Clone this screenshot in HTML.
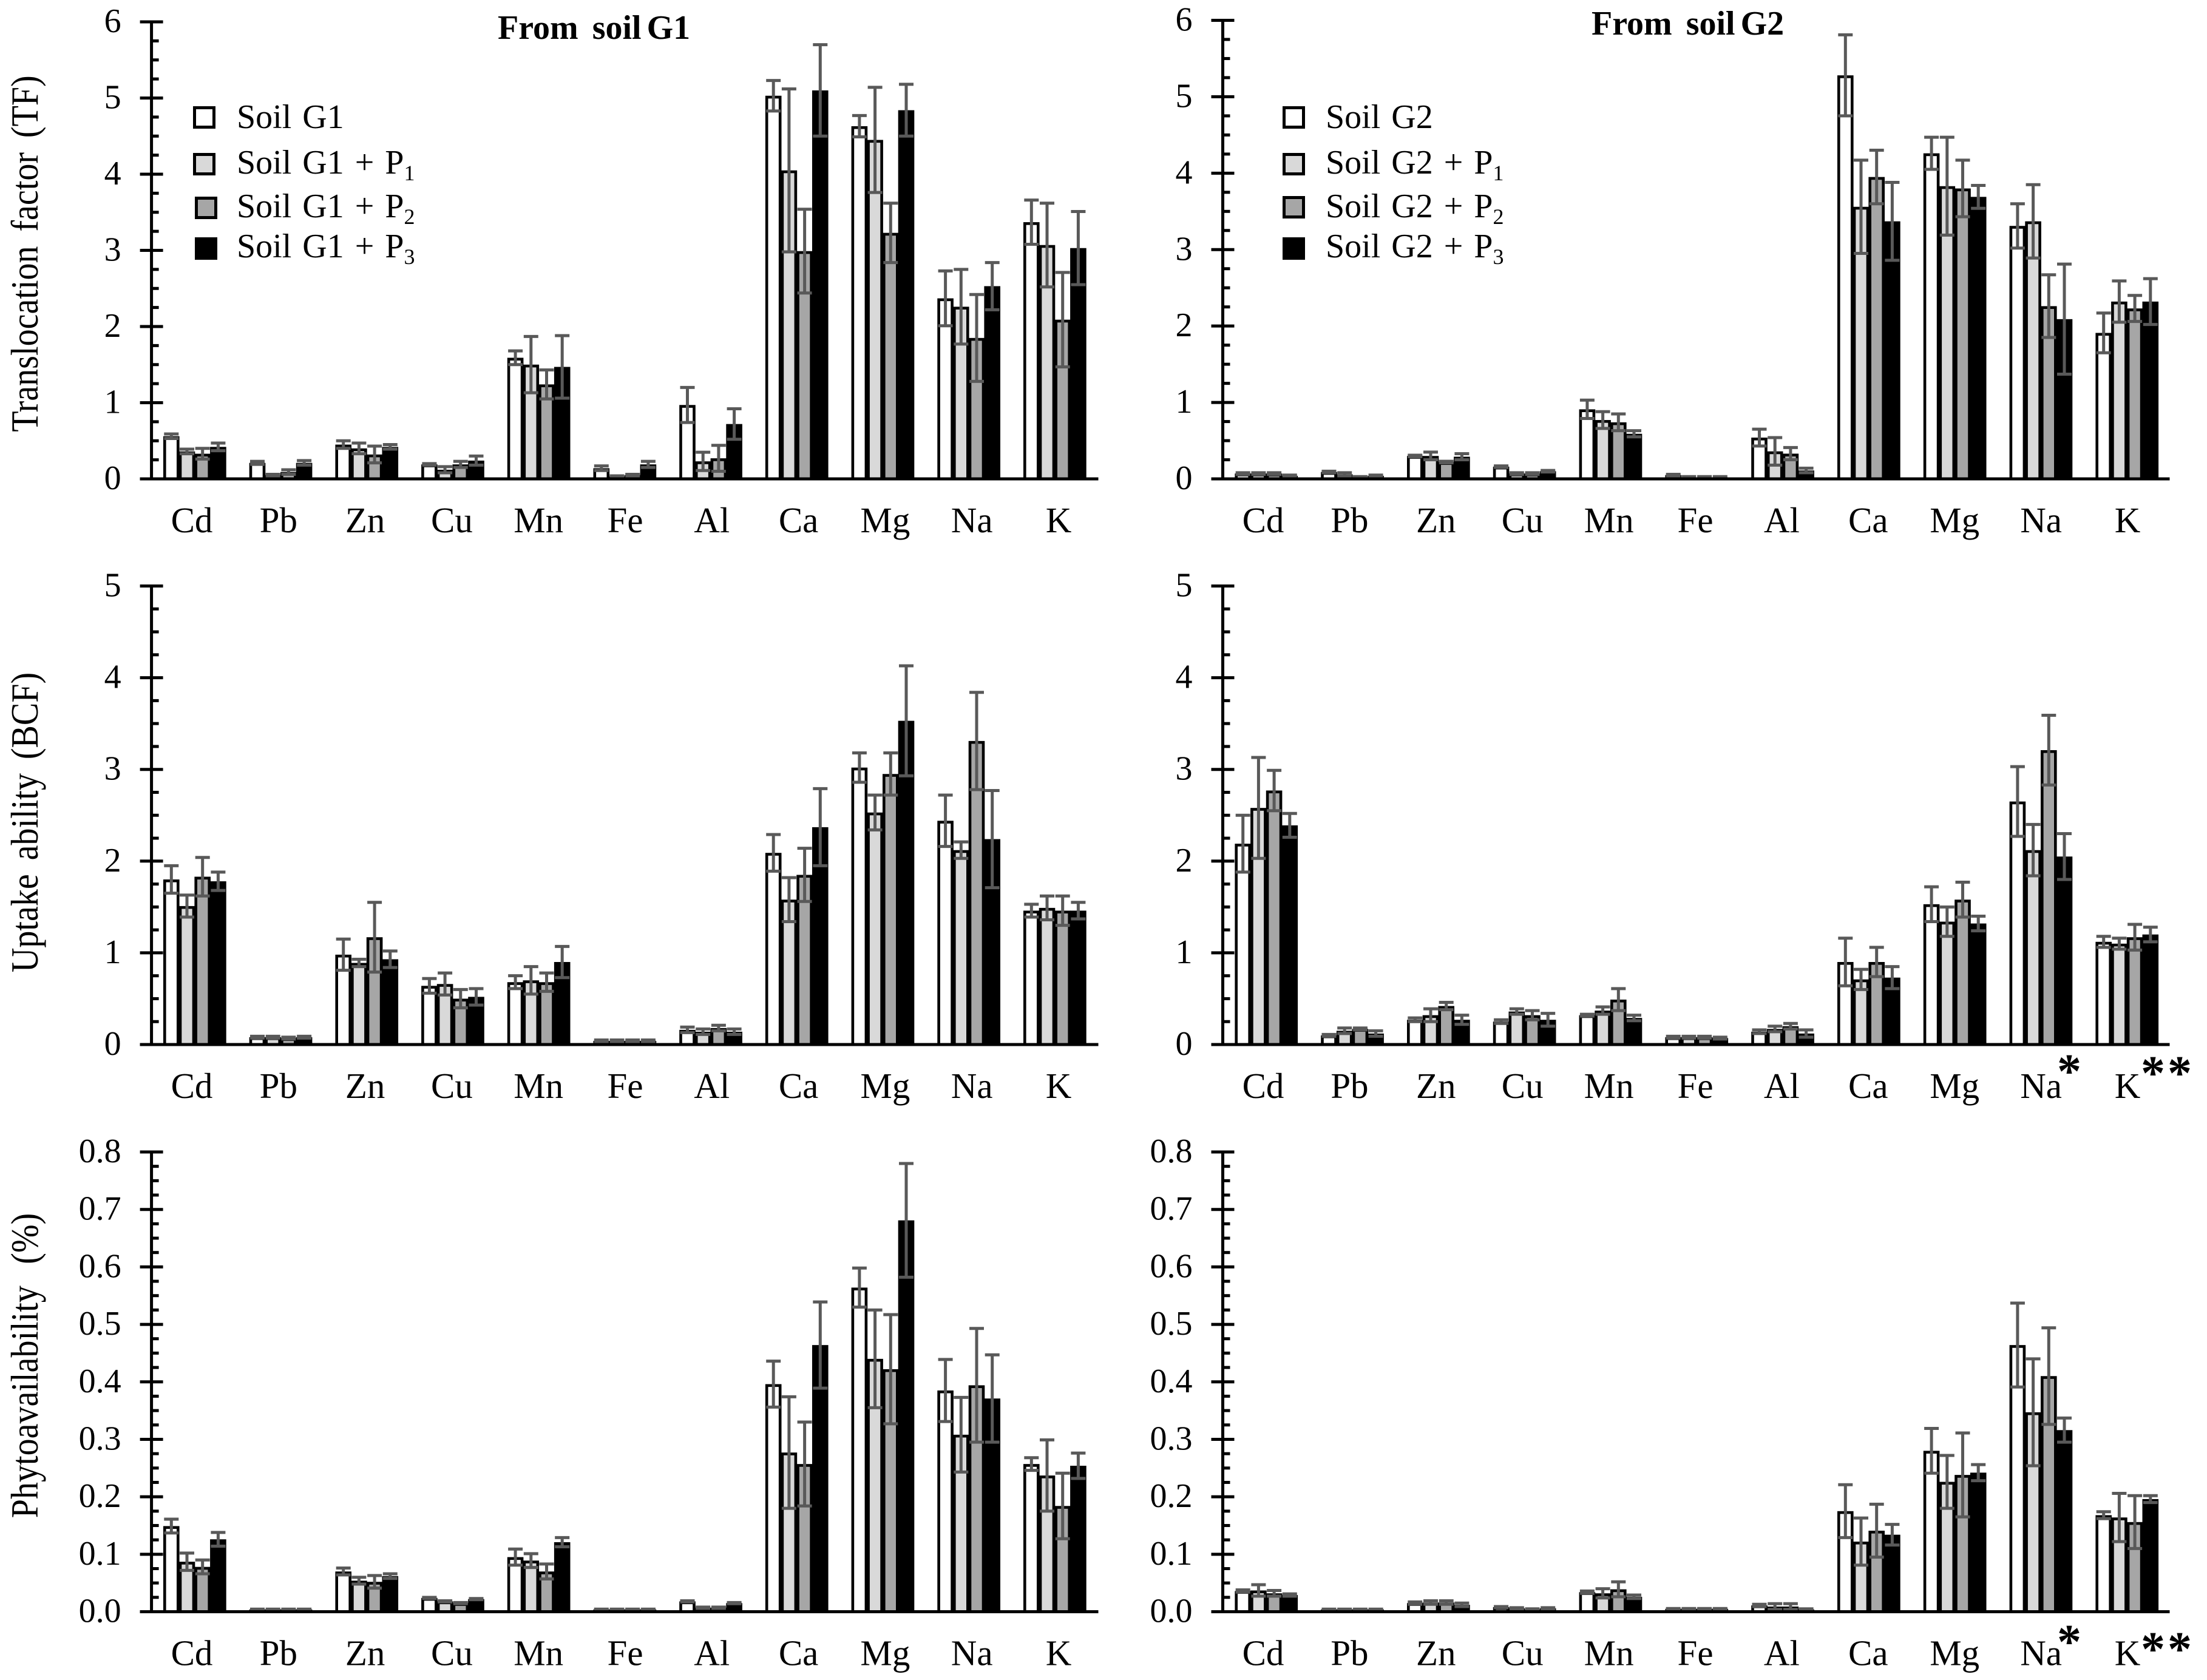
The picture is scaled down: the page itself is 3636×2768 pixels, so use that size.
<!DOCTYPE html>
<html lang="en">
<head>
<meta charset="utf-8">
<title>Translocation factor, uptake ability and phytoavailability from soils G1 and G2</title>
<style>
  html, body { margin: 0; padding: 0; background: #fff; }
  svg { display: block; }
  text { font-family: "Liberation Serif", "Times New Roman", serif; fill: #000; }
</style>
</head>
<body>
<svg id="chart" xmlns="http://www.w3.org/2000/svg" width="3636" height="2768" viewBox="0 0 3636 2768">
  <rect x="0" y="0" width="3636" height="2768" fill="#fff"/>

  <text x="820" y="64" font-size="56" font-weight="bold">From <tspan dx="9">soil</tspan> <tspan dx="-5">G1</tspan></text>
  <text x="2622" y="57" font-size="56" font-weight="bold">From <tspan dx="9">soil</tspan> <tspan dx="-5">G2</tspan></text>

  <text transform="translate(62 418) rotate(-90) scale(0.89 1)" text-anchor="middle" font-size="63" word-spacing="11">Translocation factor (TF)</text>
  <text transform="translate(62 1355) rotate(-90) scale(0.89 1)" text-anchor="middle" font-size="63" word-spacing="10">Uptake ability (BCF)</text>
  <text transform="translate(62 2250) rotate(-90) scale(0.89 1)" text-anchor="middle" font-size="63" word-spacing="24">Phytoavailability (%)</text>

  <g>
    <g>
      <rect x="320.5" y="177.5" width="32" height="32" fill="#fff" stroke="#000" stroke-width="5"/>
      <text x="390" y="211" font-size="56" word-spacing="4">Soil G1</text>
    </g>
    <g>
      <rect x="320.5" y="254.5" width="32" height="32" fill="#d9d9d9" stroke="#000" stroke-width="5"/>
      <text x="390" y="286" font-size="56" word-spacing="4">Soil G1 + P<tspan font-size="36" dy="11">1</tspan></text>
    </g>
    <g>
      <rect x="323.5" y="326.5" width="32" height="32" fill="#a6a6a6" stroke="#000" stroke-width="5"/>
      <text x="390" y="358" font-size="56" word-spacing="4">Soil G1 + P<tspan font-size="36" dy="11">2</tspan></text>
    </g>
    <g>
      <rect x="323.5" y="393.5" width="32" height="32" fill="#000" stroke="#000" stroke-width="5"/>
      <text x="390" y="424" font-size="56" word-spacing="4">Soil G1 + P<tspan font-size="36" dy="11">3</tspan></text>
    </g>
  </g>

  <g>
    <g>
      <rect x="2115.5" y="177.5" width="32" height="32" fill="#fff" stroke="#000" stroke-width="5"/>
      <text x="2184" y="211" font-size="56" word-spacing="4">Soil G2</text>
    </g>
    <g>
      <rect x="2115.5" y="254.5" width="32" height="32" fill="#d9d9d9" stroke="#000" stroke-width="5"/>
      <text x="2184" y="286" font-size="56" word-spacing="4">Soil G2 + P<tspan font-size="36" dy="11">1</tspan></text>
    </g>
    <g>
      <rect x="2115.5" y="325.5" width="32" height="32" fill="#a6a6a6" stroke="#000" stroke-width="5"/>
      <text x="2184" y="358" font-size="56" word-spacing="4">Soil G2 + P<tspan font-size="36" dy="11">2</tspan></text>
    </g>
    <g>
      <rect x="2115.5" y="393.5" width="32" height="32" fill="#000" stroke="#000" stroke-width="5"/>
      <text x="2184" y="424" font-size="56" word-spacing="4">Soil G2 + P<tspan font-size="36" dy="11">3</tspan></text>
    </g>
  </g>

  <g id="panels"></g>

  <g>
    <text x="3409" y="1792" font-size="80" font-weight="bold" text-anchor="middle">*</text>
    <text x="3547" y="1795" font-size="80" font-weight="bold" text-anchor="middle">*</text>
    <text x="3591" y="1795" font-size="80" font-weight="bold" text-anchor="middle">*</text>
    <text x="3409" y="2732" font-size="80" font-weight="bold" text-anchor="middle">*</text>
    <text x="3547" y="2744" font-size="80" font-weight="bold" text-anchor="middle">*</text>
    <text x="3591" y="2744" font-size="80" font-weight="bold" text-anchor="middle">*</text>
  </g>
</svg>

<script>
// Categories and tick labels
const elements = ['Cd','Pb','Zn','Cu','Mn','Fe','Al','Ca','Mg','Na','K'];
const seriesNames = ['soil','soil-p1','soil-p2','soil-p3'];
const tfTicks = ['0','1','2','3','4','5','6'];
const bcfTicks = ['0','1','2','3','4','5'];
const phytoTicks = ['0.0','0.1','0.2','0.3','0.4','0.5','0.6','0.7','0.8'];

// Each row is one element: [soil, +P1, +P2, +P3]
const tfG1Values = [
  [0.56,0.36,0.33,0.42],[0.21,0.05,0.09,0.21],[0.45,0.40,0.32,0.42],[0.19,0.12,0.19,0.24],
  [1.59,1.50,1.24,1.47],[0.14,0.03,0.05,0.19],[0.97,0.23,0.27,0.72],[5.03,4.05,2.99,5.10],
  [4.63,4.45,3.23,4.84],[2.37,2.26,1.85,2.53],[3.37,3.07,2.09,3.03]
];
const tfG1Errors = [
  [0.03,0.03,0.07,0.05],[0.02,0.01,0.03,0.03],[0.05,0.07,0.11,0.03],[0.01,0.04,0.04,0.06],
  [0.09,0.37,0.19,0.41],[0.03,0.01,0.01,0.04],[0.23,0.12,0.17,0.20],[0.20,1.07,0.55,0.60],
  [0.14,0.69,0.39,0.34],[0.36,0.49,0.57,0.31],[0.29,0.55,0.62,0.48]
];
const tfG2Values = [
  [0.07,0.07,0.07,0.04],[0.09,0.06,0.02,0.04],[0.30,0.30,0.22,0.29],[0.16,0.07,0.07,0.10],
  [0.91,0.77,0.74,0.59],[0.05,0.02,0.02,0.02],[0.54,0.36,0.33,0.11],[5.28,3.56,3.95,3.37],
  [4.26,3.83,3.80,3.69],[3.31,3.37,2.26,2.09],[1.91,2.32,2.23,2.32]
];
const tfG2Errors = [
  [0.01,0.01,0.01,0.01],[0.01,0.02,0.01,0.01],[0.01,0.05,0.01,0.04],[0.01,0.01,0.01,0.01],
  [0.12,0.11,0.11,0.04],[0.01,0.01,0.01,0.01],[0.11,0.18,0.08,0.03],[0.53,0.61,0.35,0.51],
  [0.21,0.64,0.37,0.15],[0.29,0.48,0.41,0.72],[0.26,0.27,0.17,0.30]
];
const bcfG1Values = [
  [1.80,1.51,1.83,1.78],[0.08,0.08,0.07,0.08],[0.98,0.89,1.17,0.93],[0.64,0.66,0.50,0.52],
  [0.68,0.70,0.68,0.90],[0.04,0.04,0.04,0.04],[0.16,0.14,0.18,0.14],[2.09,1.58,1.85,2.37],
  [3.02,2.53,2.95,3.53],[2.44,2.12,3.31,2.24],[1.46,1.49,1.46,1.46]
];
const bcfG1Errors = [
  [0.15,0.12,0.21,0.10],[0.01,0.01,0.01,0.01],[0.17,0.04,0.38,0.09],[0.08,0.12,0.10,0.09],
  [0.07,0.15,0.10,0.17],[0.01,0.01,0.01,0.01],[0.03,0.03,0.03,0.03],[0.20,0.24,0.29,0.42],
  [0.16,0.19,0.23,0.60],[0.28,0.09,0.53,0.53],[0.07,0.13,0.16,0.09]
];
const bcfG2Values = [
  [2.19,2.58,2.77,2.39],[0.10,0.15,0.17,0.12],[0.27,0.32,0.42,0.27],[0.25,0.36,0.32,0.27],
  [0.32,0.37,0.49,0.29],[0.08,0.08,0.08,0.07],[0.14,0.17,0.20,0.12],[0.90,0.71,0.90,0.73],
  [1.53,1.34,1.58,1.32],[2.65,2.12,3.21,2.05],[1.12,1.10,1.17,1.20]
];
const bcfG2Errors = [
  [0.31,0.55,0.22,0.13],[0.01,0.03,0.01,0.03],[0.02,0.07,0.04,0.05],[0.02,0.03,0.05,0.07],
  [0.01,0.04,0.12,0.03],[0.01,0.01,0.01,0.01],[0.02,0.03,0.03,0.04],[0.26,0.11,0.16,0.12],
  [0.19,0.16,0.19,0.08],[0.38,0.28,0.38,0.25],[0.06,0.06,0.14,0.08]
];
const phytoG1Values = [
  [0.149,0.087,0.078,0.126],[0.004,0.004,0.004,0.004],[0.070,0.054,0.052,0.062],[0.024,0.018,0.015,0.022],
  [0.095,0.089,0.070,0.121],[0.004,0.004,0.004,0.004],[0.018,0.007,0.007,0.015],[0.396,0.277,0.257,0.464],
  [0.564,0.440,0.422,0.681],[0.385,0.308,0.394,0.371],[0.257,0.237,0.184,0.254]
];
const phytoG1Errors = [
  [0.012,0.015,0.012,0.012],[0.0005,0.0005,0.0005,0.0005],[0.006,0.006,0.011,0.004],[0.001,0.001,0.001,0.001],
  [0.014,0.012,0.013,0.008],[0.0005,0.0005,0.0005,0.0005],[0.001,0.001,0.001,0.001],[0.040,0.097,0.073,0.075],
  [0.034,0.085,0.095,0.099],[0.054,0.065,0.099,0.076],[0.011,0.062,0.057,0.022]
];
const phytoG2Values = [
  [0.036,0.037,0.032,0.029],[0.004,0.004,0.004,0.004],[0.015,0.016,0.016,0.012],[0.008,0.006,0.004,0.006],
  [0.034,0.032,0.039,0.026],[0.005,0.005,0.005,0.005],[0.011,0.009,0.009,0.004],[0.175,0.122,0.141,0.134],
  [0.280,0.226,0.238,0.242],[0.464,0.347,0.410,0.316],[0.168,0.164,0.156,0.196]
];
const phytoG2Errors = [
  [0.002,0.010,0.005,0.002],[0.0005,0.0005,0.0005,0.0005],[0.002,0.003,0.003,0.003],[0.001,0.001,0.001,0.001],
  [0.002,0.008,0.013,0.003],[0.0005,0.0005,0.0005,0.0005],[0.002,0.005,0.005,0.001],[0.046,0.041,0.046,0.018],
  [0.039,0.046,0.073,0.014],[0.073,0.093,0.084,0.021],[0.006,0.042,0.046,0.006]
];

// Styles and layout (not data)
const fills = ['#ffffff','#d9d9d9','#a6a6a6','#000000'];
const ERR = '#595959';
const BAR_PITCH = 25.7, BAR_W = 26.6, BAR_SW = 4.6, CAP_W = 24, ERR_SW = 5, AXIS_SW = 5;

const leftCol  = { axisX: 249.6,  xEnd: 1809.5, groupStart: 269,    groupStep: 141.7, labelStart: 316,  labelStep: 142.8 };
const rightCol = { axisX: 2014.5, xEnd: 3574.5, groupStart: 2034.4, groupStep: 141.8, labelStart: 2081, labelStep: 142.4 };

const panels = [
  { name:'tf-g1',    col:leftCol,  y0:789,    yTop:36,    max:6,   ticks:tfTicks,    values:tfG1Values,    errors:tfG1Errors },
  { name:'tf-g2',    col:rightCol, y0:789,    yTop:33.5,  max:6,   ticks:tfTicks,    values:tfG2Values,    errors:tfG2Errors },
  { name:'bcf-g1',   col:leftCol,  y0:1721,   yTop:965.5, max:5,   ticks:bcfTicks,   values:bcfG1Values,   errors:bcfG1Errors },
  { name:'bcf-g2',   col:rightCol, y0:1721,   yTop:965.5, max:5,   ticks:bcfTicks,   values:bcfG2Values,   errors:bcfG2Errors },
  { name:'phyto-g1', col:leftCol,  y0:2655.5, yTop:1898,  max:0.8, ticks:phytoTicks, values:phytoG1Values, errors:phytoG1Errors },
  { name:'phyto-g2', col:rightCol, y0:2655.5, yTop:1898,  max:0.8, ticks:phytoTicks, values:phytoG2Values, errors:phytoG2Errors }
];

const NS = 'http://www.w3.org/2000/svg';
function make(tag, attrs, parent) {
  const el = document.createElementNS(NS, tag);
  for (const k in attrs) el.setAttribute(k, attrs[k]);
  parent.appendChild(el);
  return el;
}
function yScale(p, v) { return p.y0 - (v / p.max) * (p.y0 - p.yTop); }
function xBar(p, i, s) { return p.col.groupStart + i * p.col.groupStep + s * BAR_PITCH; }

const root = document.getElementById('panels');

panels.forEach(function (p) {
  const g = make('g', {}, root);
  
  

  // Bars for every element, then error bars on top
  p.values.forEach(function (row, i) {
    const barGroup = make('g', {}, g);
    
    
    row.forEach(function (v, s) {
      const top = yScale(p, v);
      const rect = make('rect', {
        x: xBar(p, i, s) + BAR_SW / 2,
        y: top + BAR_SW / 2,
        width: BAR_W - BAR_SW,
        height: Math.max(0, p.y0 - top - BAR_SW / 2),
        fill: fills[s],
        stroke: '#000',
        'stroke-width': BAR_SW
      }, barGroup);
      
      
    });
    row.forEach(function (v, s) {
      const e = p.errors[i][s];
      const cx = xBar(p, i, s) + BAR_W / 2;
      const hi = yScale(p, v + e), lo = yScale(p, Math.max(0, v - e));
      const errGroup = make('g', { stroke: ERR, 'stroke-width': ERR_SW, fill: 'none' }, barGroup);
      
      
      make('line', { x1: cx, x2: cx, y1: hi, y2: lo }, errGroup);
      make('line', { x1: cx - CAP_W / 2, x2: cx + CAP_W / 2, y1: hi, y2: hi }, errGroup);
      make('line', { x1: cx - CAP_W / 2, x2: cx + CAP_W / 2, y1: lo, y2: lo }, errGroup);
    });
  });

  // Y axis
  const ax = p.col.axisX;
  const yAxis = make('g', { stroke: '#000', 'stroke-width': AXIS_SW }, g);
  
  
  make('line', { x1: ax, x2: ax, y1: p.yTop - 2.5, y2: p.y0 }, yAxis);
  const n = p.ticks.length - 1;
  const stepPx = (p.y0 - p.yTop) / n;
  p.ticks.forEach(function (label, t) {
    const y = p.y0 - t * stepPx;
    make('line', { x1: ax - 19, x2: ax + 19, y1: y, y2: y }, yAxis);
    if (t < n) {
      for (let m = 1; m < 4; m++) {
        const my = y - m * stepPx / 4;
        make('line', { x1: ax, x2: ax + 12, y1: my, y2: my }, yAxis);
      }
    }
    const tx = make('text', { x: ax - 50, y: y + 17, 'font-size': 56, 'text-anchor': 'end', stroke: 'none' }, g);
    
    
    tx.textContent = label;
  });

  // X axis
  const xAxis = make('line', { x1: ax - 19, x2: p.col.xEnd, y1: p.y0, y2: p.y0, stroke: '#000', 'stroke-width': AXIS_SW }, g);
  
  

  elements.forEach(function (label, i) {
    const tx = make('text', {
      x: p.col.labelStart + i * p.col.labelStep,
      y: p.y0 + 88,
      'font-size': 59,
      'text-anchor': 'middle'
    }, g);
    
    
    tx.textContent = label;
  });
});
</script>
</body>
</html>
